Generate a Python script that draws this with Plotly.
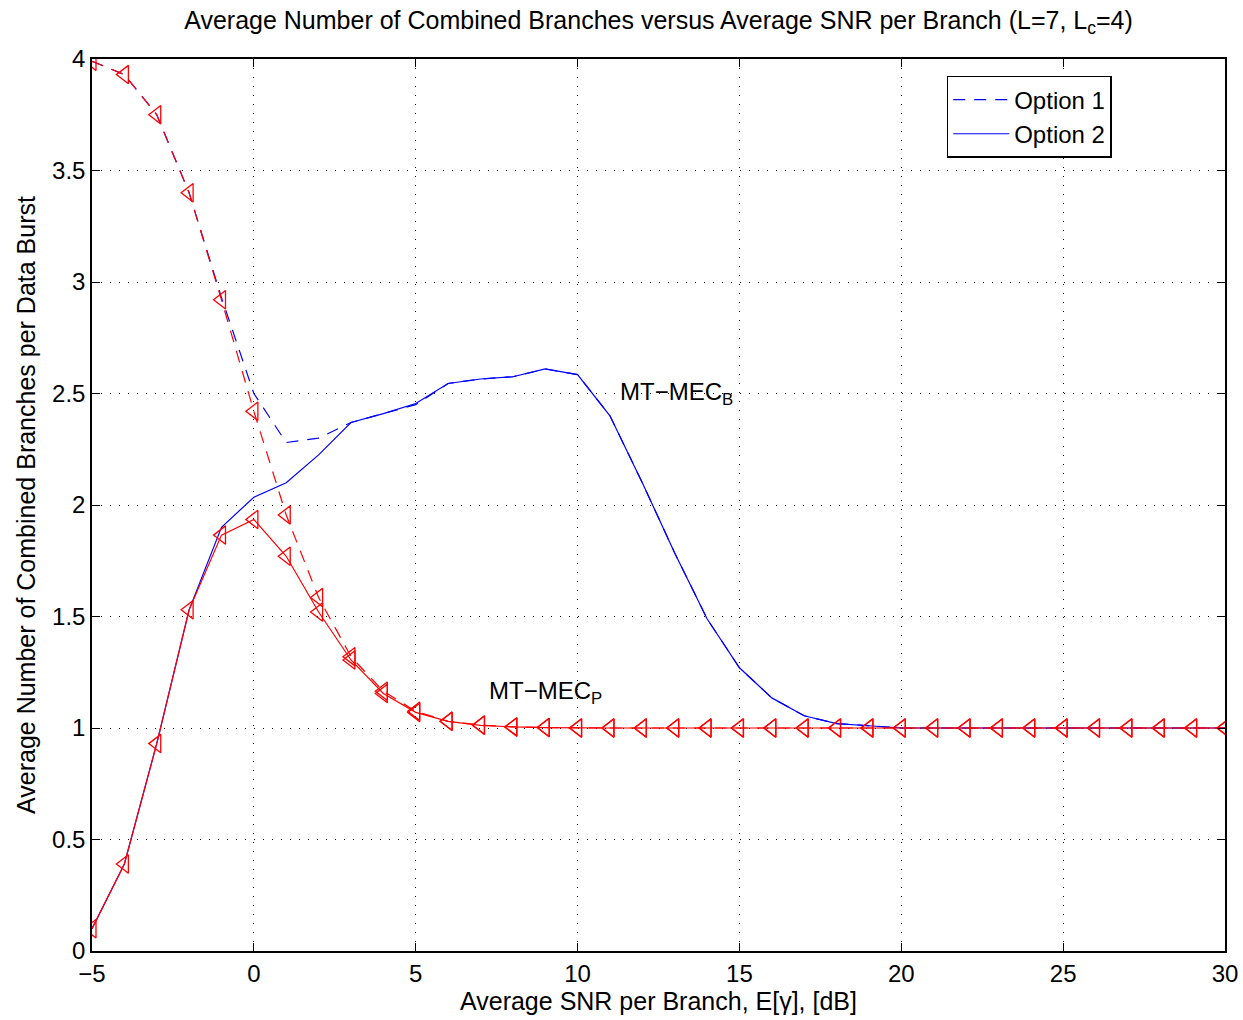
import plotly.graph_objects as go

snr = list(range(-5, 31))

# MT-MEC_B, Option 1 (blue dashed)
mecb_opt1 = [3.99, 3.93, 3.75, 3.40, 2.93, 2.50, 2.28, 2.30, 2.37, 2.41, 2.45, 2.545, 2.565, 2.575, 2.61, 2.585,
             2.40, 2.10, 1.785, 1.49, 1.27, 1.135, 1.055, 1.02, 1.01, 1.0, 1.0, 1.0, 1.0, 1.0, 1.0, 1.0, 1.0, 1.0, 1.0, 1.0]
# MT-MEC_B, Option 2 (blue solid)
mecb_opt2 = [0.10, 0.39, 0.93, 1.53, 1.90, 2.035, 2.10, 2.225, 2.37, 2.41, 2.455, 2.545, 2.565, 2.575, 2.61, 2.585,
             2.40, 2.10, 1.785, 1.49, 1.27, 1.135, 1.055, 1.02, 1.01, 1.0, 1.0, 1.0, 1.0, 1.0, 1.0, 1.0, 1.0, 1.0, 1.0, 1.0]
# MT-MEC_P, Option 1 (red dashed, triangles)
mecp_opt1 = [3.99, 3.93, 3.75, 3.40, 2.92, 2.42, 1.955, 1.585, 1.32, 1.165, 1.075, 1.03, 1.013, 1.005, 1.002, 1.0,
             1.0, 1.0, 1.0, 1.0, 1.0, 1.0, 1.0, 1.0, 1.0, 1.0, 1.0, 1.0, 1.0, 1.0, 1.0, 1.0, 1.0, 1.0, 1.0, 1.0]
# MT-MEC_P, Option 2 (red solid, triangles)
mecp_opt2 = [0.10, 0.39, 0.93, 1.53, 1.865, 1.935, 1.77, 1.52, 1.305, 1.155, 1.07, 1.03, 1.012, 1.005, 1.002, 1.0,
             1.0, 1.0, 1.0, 1.0, 1.0, 1.0, 1.0, 1.0, 1.0, 1.0, 1.0, 1.0, 1.0, 1.0, 1.0, 1.0, 1.0, 1.0, 1.0, 1.0]

xticks = [-5, 0, 5, 10, 15, 20, 25, 30]
yticks = [0, 0.5, 1, 1.5, 2, 2.5, 3, 3.5, 4]

FONT = "Liberation Sans, Arial, Helvetica, sans-serif"
BLUE = "#0000ff"
RED = "#ff0000"

fig = go.Figure()
fig.add_trace(go.Scatter(x=snr, y=mecb_opt1, mode="lines", name="Option 1",
                         line=dict(color=BLUE, width=1.2, dash="12px,9px")))
fig.add_trace(go.Scatter(x=snr, y=mecb_opt2, mode="lines", name="Option 2",
                         line=dict(color=BLUE, width=1.2)))
fig.add_trace(go.Scatter(x=snr, y=mecp_opt1, mode="lines+markers", showlegend=False,
                         line=dict(color=RED, width=1.2, dash="12px,9px"),
                         marker=dict(symbol="triangle-left-open", size=16, color=RED, line=dict(width=1.3, color=RED))))
fig.add_trace(go.Scatter(x=snr, y=mecp_opt2, mode="lines+markers", showlegend=False,
                         line=dict(color=RED, width=1.2),
                         marker=dict(symbol="triangle-left-open", size=16, color=RED, line=dict(width=1.3, color=RED))))

fig.add_annotation(x=11.25, y=2.5, xref="x", yref="y", text="MT\u2212MEC<sub>B</sub>", showarrow=False,
                   xanchor="left", yanchor="middle", font=dict(family=FONT, size=24, color="black"))
fig.add_annotation(x=7.2, y=1.16, xref="x", yref="y", text="MT\u2212MEC<sub>P</sub>", showarrow=False,
                   xanchor="left", yanchor="middle", font=dict(family=FONT, size=24, color="black"))

fig.update_layout(
    width=1243, height=1020,
    margin=dict(l=92, r=18, t=59, b=69, autoexpand=False),
    paper_bgcolor="white", plot_bgcolor="white",
    font=dict(family=FONT, size=24, color="black"),
    title=dict(text="Average Number of Combined Branches versus Average SNR per Branch (L=7, L<sub>c</sub>=4)",
               x=0.5, xref="paper", xanchor="center", y=1 - 20/1020, yanchor="middle",
               font=dict(family=FONT, size=25, color="black")),
    showlegend=True,
    legend=dict(x=0.9, y=0.981, xanchor="right", yanchor="top", bgcolor="white",
                bordercolor="black", borderwidth=1.5, font=dict(family=FONT, size=24),
                tracegroupgap=0, itemwidth=56),
)
fig.update_xaxes(range=[-5, 30], tickvals=xticks, ticks="inside", ticklen=8, tickcolor="black",
                 showline=True, linecolor="black", linewidth=1.5, mirror="ticks", automargin=False,
                 showgrid=True, gridcolor="black", gridwidth=1, griddash="1px,8px", zeroline=False,
                 title=dict(text="Average SNR per Branch, E[\u03b3], [dB]", standoff=2,
                            font=dict(family=FONT, size=25)),
                 tickfont=dict(family=FONT, size=24))
fig.update_yaxes(range=[0, 4], tickvals=yticks, ticks="inside", ticklen=8, tickcolor="black",
                 showline=True, linecolor="black", linewidth=1.5, mirror="ticks", automargin=False,
                 showgrid=True, gridcolor="black", gridwidth=1, griddash="1px,8px", zeroline=False,
                 title=dict(text="Average Number of Combined Branches per Data Burst", standoff=9,
                            font=dict(family=FONT, size=25)),
                 tickfont=dict(family=FONT, size=24))

fig.write_html("out.html")
